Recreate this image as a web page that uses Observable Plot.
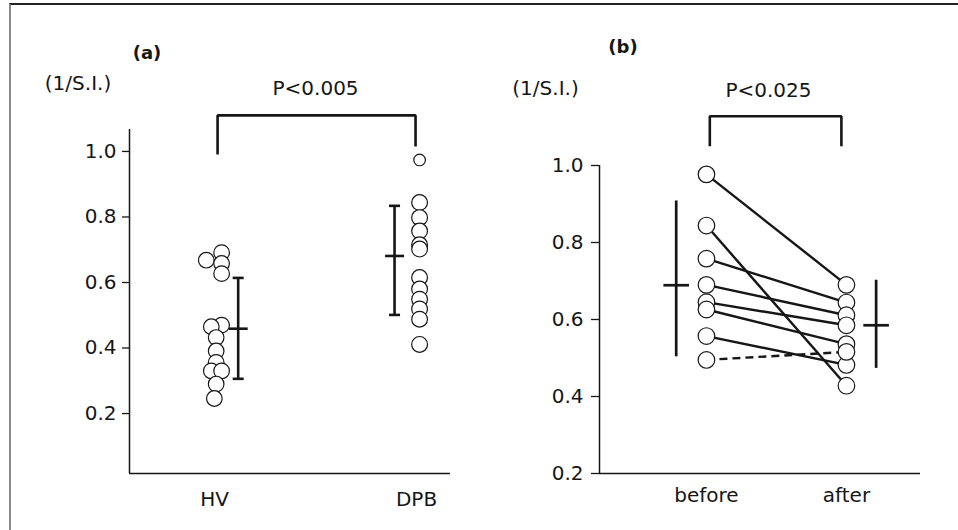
<!DOCTYPE html>
<html>
<head>
<meta charset="utf-8">
<script src="https://cdn.jsdelivr.net/npm/d3@7"></script>
<script src="https://cdn.jsdelivr.net/npm/@observablehq/plot@0.6"></script>
<style>
  html, body { margin: 0; padding: 0; background: #fff; }
  #wrap { position: relative; width: 958px; height: 530px; overflow: hidden; font-family: "DejaVu Sans", sans-serif; }
  #frame { position: absolute; left: 8.5px; top: 3px; width: 960px; height: 540px; border-top: 2px solid #222; border-left: 2px solid #8a8a8a; }
  #pa { position: absolute; left: 0; top: 0; }
  #pb { position: absolute; left: 480px; top: 0; }
  svg { overflow: visible; }
</style>
</head>
<body>
<div id="wrap">
  <div id="frame"></div>
  <div id="pa"></div>
  <div id="pb"></div>
</div>
<script>
// ---------- Panel (a) data ----------
const groupsA = ["HV", "DPB"];
const hvValues  = [0.691, 0.668, 0.658, 0.627, 0.470, 0.465, 0.432, 0.391, 0.356, 0.330, 0.330, 0.290, 0.246];
const hvJitter  = [0.035, -0.041, 0.035, 0.035, 0.035, -0.016, 0.008, 0.008, 0.008, -0.016, 0.035, 0.008, -0.001];
const dpbValues = [0.974, 0.844, 0.798, 0.757, 0.715, 0.702, 0.615, 0.580, 0.549, 0.519, 0.488, 0.411];
const dpbJitter = [0.015, 0.015, 0.015, 0.015, 0.015, 0.015, 0.015, 0.015, 0.015, 0.015, 0.015, 0.015];
const statsA = [
  {group: "HV",  pos: 1.117, mean: 0.459, lo: 0.306, hi: 0.614},
  {group: "DPB", pos: 1.891, mean: 0.681, lo: 0.501, hi: 0.834}
];
const bracketA = {x1: 1.015, x2: 1.995, top: 1.11, leftEnd: 0.991, rightEnd: 1.015, label: "P<0.005", labelX: 1.5, labelY: 1.192};
const yTicks = [0.2, 0.4, 0.6, 0.8, 1.0];

// ---------- Panel (b) data ----------
const groupsB = ["before", "after"];
const beforeValues = [0.977, 0.844, 0.758, 0.690, 0.645, 0.626, 0.557, 0.495];
const afterValues  = [0.690, 0.428, 0.644, 0.611, 0.585, 0.536, 0.482, 0.516];
const statsB = [
  {group: "before", pos: 0.784, mean: 0.689, lo: 0.503, hi: 0.908},
  {group: "after",  pos: 2.212, mean: 0.585, lo: 0.473, hi: 0.702}
];
const bracketB = {x1: 1.024, x2: 1.964, top: 1.128, leftEnd: 1.05, rightEnd: 1.05, label: "P<0.025", labelX: 1.443, labelY: 1.195};

// ---------- shared styling ----------
const INK = "#161616";
const FONT = "DejaVu Sans";
const hbar = {draw(ctx, size) { const r = Math.sqrt(size / Math.PI); ctx.moveTo(-r, 0); ctx.lineTo(r, 0); }};

function bracketPath(b) {
  return [
    {x: b.x1, y: b.leftEnd}, {x: b.x1, y: b.top},
    {x: b.x2, y: b.top}, {x: b.x2, y: b.rightEnd}
  ];
}
const centered = {textAnchor: "middle", lineAnchor: "middle", frameAnchor: "top-left", fill: INK};

// ---------- Panel (a) ----------
const hv = hvValues.map((v, i) => ({x: 1 + hvJitter[i], y: v}));
const dpb = dpbValues.map((v, i) => ({x: 2 + dpbJitter[i], y: v, small: i === 0}));
const xDomainA = [0.579, 2.168];
const yDomainA = [0.017, 1.067];

const plotA = Plot.plot({
  width: 480, height: 530,
  marginLeft: 129, marginRight: 30, marginTop: 129, marginBottom: 57,
  style: {fontFamily: FONT, fontSize: "20px", background: "transparent", color: INK},
  x: {domain: xDomainA},
  y: {domain: yDomainA},
  marks: [
    Plot.axisY({ticks: yTicks, tickFormat: d3.format(".1f"), tickSize: 7, tickPadding: 6, label: null, fontSize: 20, strokeWidth: 1.3}),
    Plot.axisX({ticks: [1, 2], tickFormat: d => groupsA[d - 1], tickSize: 0, tickPadding: 18, label: null, fontSize: 20}),
    Plot.ruleX([xDomainA[0]], {stroke: INK, strokeWidth: 1.5}),
    Plot.ruleY([yDomainA[0]], {stroke: INK, strokeWidth: 1.5}),
    // error bars
    Plot.ruleX(statsA, {x: "pos", y1: "lo", y2: "hi", stroke: INK, strokeWidth: 2.6}),
    Plot.dot(statsA, {x: "pos", y: "lo", symbol: hbar, r: 5.5, fill: "none", stroke: INK, strokeWidth: 2.6}),
    Plot.dot(statsA, {x: "pos", y: "hi", symbol: hbar, r: 5.5, fill: "none", stroke: INK, strokeWidth: 2.6}),
    Plot.dot(statsA, {x: "pos", y: "mean", symbol: hbar, r: 9.5, fill: "none", stroke: INK, strokeWidth: 2.6}),
    // points
    Plot.dot(hv, {x: "x", y: "y", r: 7.8, fill: "white", stroke: INK, strokeWidth: 1.2}),
    Plot.dot(dpb.filter(d => !d.small), {x: "x", y: "y", r: 7.9, fill: "white", stroke: INK, strokeWidth: 1.2}),
    Plot.dot(dpb.filter(d => d.small), {x: "x", y: "y", r: 5.8, fill: "white", stroke: INK, strokeWidth: 1.2}),
    // significance bracket
    Plot.line(bracketPath(bracketA), {x: "x", y: "y", stroke: INK, strokeWidth: 2.6, strokeLinejoin: "miter", strokeLinecap: "butt"}),
    Plot.text([bracketA], {x: "labelX", y: "labelY", text: "label", fontSize: 20, fill: INK}),
    // labels
    Plot.text(["(1/S.I.)"], {...centered, text: d => d, dx: -51.5, dy: -46, fontSize: 20}),
    Plot.text(["(a)"], {...centered, text: d => d, dx: 17.5, dy: -76, fontSize: 18, fontWeight: "bold"})
  ]
});
document.getElementById("pa").appendChild(plotA);

// ---------- Panel (b) ----------
const pairs = beforeValues.map((v, i) => ({before: v, after: afterValues[i]}));
const xDomainB = [0.236, 2.529];
const yDomainB = [0.2, 1.0];

const plotB = Plot.plot({
  width: 478, height: 530,
  marginLeft: 119, marginRight: 38, marginTop: 165, marginBottom: 57,
  style: {fontFamily: FONT, fontSize: "20px", background: "transparent", color: INK},
  x: {domain: xDomainB},
  y: {domain: yDomainB},
  marks: [
    Plot.axisY({ticks: yTicks, tickFormat: d3.format(".1f"), tickSize: 8, tickPadding: 8, label: null, fontSize: 20, strokeWidth: 1.3}),
    Plot.axisX({ticks: [1, 2], tickFormat: d => groupsB[d - 1], tickSize: 0, tickPadding: 14, label: null, fontSize: 20}),
    Plot.ruleX([xDomainB[0]], {stroke: INK, strokeWidth: 1.5}),
    Plot.ruleY([yDomainB[0]], {stroke: INK, strokeWidth: 1.5}),
    // mean ± SD bars
    Plot.ruleX(statsB, {x: "pos", y1: "lo", y2: "hi", stroke: INK, strokeWidth: 2.7}),
    Plot.dot(statsB, {x: "pos", y: "mean", symbol: hbar, r: 12.8, fill: "none", stroke: INK, strokeWidth: 2.7}),
    // paired lines (decrease solid, increase dashed)
    Plot.link(pairs.filter(d => d.after <= d.before), {x1: () => 1, y1: "before", x2: () => 2, y2: "after", stroke: INK, strokeWidth: 2.4}),
    Plot.link(pairs.filter(d => d.after > d.before), {x1: () => 1, y1: "before", x2: () => 2, y2: "after", stroke: INK, strokeWidth: 2.4, strokeDasharray: "8,5"}),
    // points
    Plot.dot(pairs, {x: () => 1, y: "before", r: 8.3, fill: "white", stroke: INK, strokeWidth: 1.2}),
    Plot.dot(pairs, {x: () => 2, y: "after", r: 8.3, fill: "white", stroke: INK, strokeWidth: 1.2}),
    // significance bracket
    Plot.line(bracketPath(bracketB), {x: "x", y: "y", stroke: INK, strokeWidth: 2.6, strokeLinejoin: "miter", strokeLinecap: "butt"}),
    Plot.text([bracketB], {x: "labelX", y: "labelY", text: "label", fontSize: 20, fill: INK}),
    // labels
    Plot.text(["(1/S.I.)"], {...centered, text: d => d, dx: -54, dy: -77, fontSize: 20}),
    Plot.text(["(b)"], {...centered, text: d => d, dx: 23.5, dy: -118, fontSize: 18, fontWeight: "bold"})
  ]
});
document.getElementById("pb").appendChild(plotB);
</script>
</body>
</html>
